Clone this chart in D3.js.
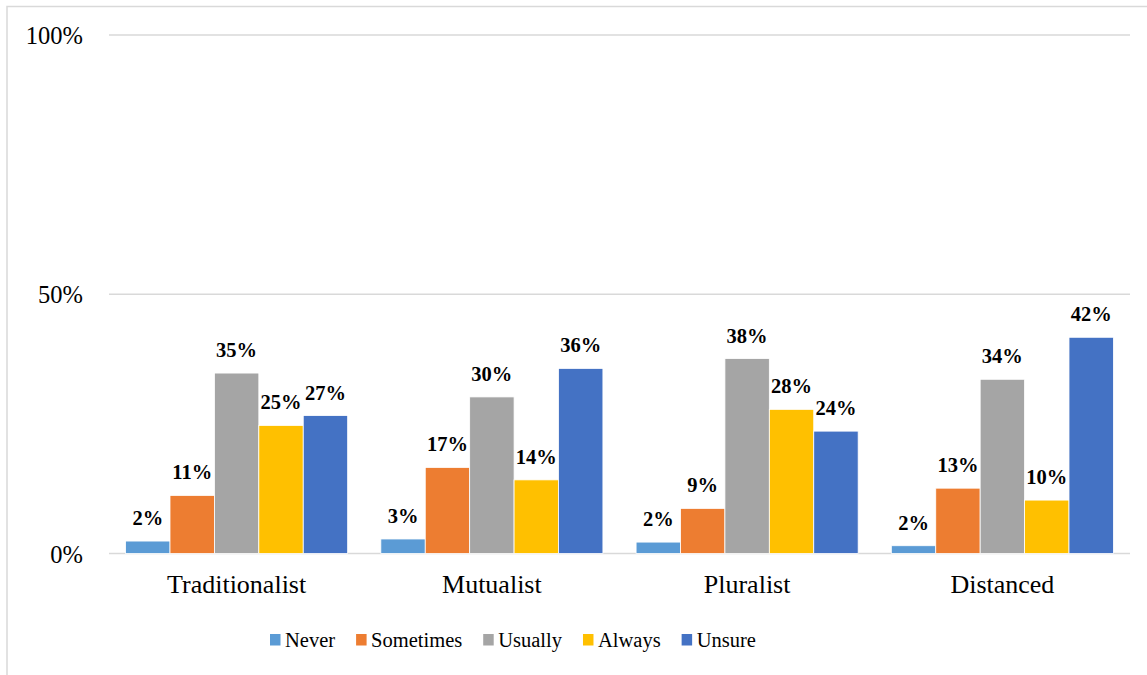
<!DOCTYPE html>
<html>
<head>
<meta charset="utf-8">
<script src="https://cdn.jsdelivr.net/npm/d3@7"></script>
<style>
  html, body { margin: 0; padding: 0; background: #fff; }
  svg { display: block; }
  text { font-family: "Liberation Serif", "Times New Roman", serif; fill: #000; }
</style>
</head>
<body>
<svg id="chart" width="1147" height="675"></svg>
<script>
const categories = ["Traditionalist", "Mutualist", "Pluralist", "Distanced"];
const seriesNames = ["Never", "Sometimes", "Usually", "Always", "Unsure"];
const seriesColors = ["#5B9BD5", "#ED7D31", "#A5A5A5", "#FFC000", "#4472C4"];
const never     = [2.4, 2.8, 2.2, 1.5];
const sometimes = [11.2, 16.6, 8.7, 12.6];
const usually   = [34.8, 30.2, 37.6, 33.6];
const always    = [24.7, 14.2, 27.8, 10.3];
const unsure    = [26.6, 35.7, 23.6, 41.7];
const yTicks = [0, 50, 100];

const seriesValues = [never, sometimes, usually, always, unsure];

const svg = d3.select("#chart");

// outer border (extends past right/bottom edges)
svg.append("rect")
  .attr("x", 7).attr("y", 6.5)
  .attr("width", 1200).attr("height", 700)
  .attr("fill", "none").attr("stroke", "#d9d9d9").attr("stroke-width", 1.5);

const plotLeft = 109, plotRight = 1130, plotTop = 35, plotBottom = 553.5;

const x0 = d3.scaleBand().domain(categories).range([plotLeft, plotRight]).paddingInner(0.13).paddingOuter(0.065);
const x1 = d3.scaleBand().domain(seriesNames).range([0, x0.bandwidth()]).padding(0);
const y = d3.scaleLinear().domain([0, 100]).range([plotBottom, plotTop]);

// gridlines
svg.append("g").selectAll("line").data(yTicks).join("line")
  .attr("x1", plotLeft).attr("x2", plotRight)
  .attr("y1", d => y(d)).attr("y2", d => y(d))
  .attr("stroke", "#d9d9d9").attr("stroke-width", 1.5);

// y tick labels
svg.append("g").selectAll("text").data(yTicks).join("text")
  .attr("x", 83).attr("y", d => y(d) + 9)
  .attr("text-anchor", "end")
  .attr("font-family", "Liberation Serif, Times New Roman, serif")
  .style("font-size", "24.5px")
  .text(d => d + "%");

// bars
const groups = svg.append("g").selectAll("g").data(categories).join("g")
  .attr("transform", d => `translate(${x0(d)},0)`);

groups.each(function(cat, ci) {
  const g = d3.select(this);
  const data = seriesNames.map((s, si) => ({ s, si, v: seriesValues[si][ci] }));
  g.selectAll("rect").data(data).join("rect")
    .attr("x", d => x1(d.s))
    .attr("y", d => y(d.v))
    .attr("width", x1.bandwidth())
    .attr("height", d => y(0) - y(d.v))
    .attr("fill", d => seriesColors[d.si])
    .attr("stroke", "#fff").attr("stroke-width", 0.8);
  g.selectAll("text").data(data).join("text")
    .attr("x", d => x1(d.s) + x1.bandwidth() / 2)
    .attr("y", d => y(d.v) - 16)
    .attr("text-anchor", "middle")
    .attr("font-family", "Liberation Serif, Times New Roman, serif")
    .style("font-size", "20.5px").style("font-weight", "bold")
    .text(d => Math.round(d.v) + "%");
});

// category labels
svg.append("g").selectAll("text").data(categories).join("text")
  .attr("x", d => x0(d) + x0.bandwidth() / 2)
  .attr("y", 593)
  .attr("text-anchor", "middle")
  .style("font-size", "26px")
  .text(d => d);

// legend
const legend = svg.append("g");
let lx = 270;
seriesNames.forEach((name, i) => {
  legend.append("rect")
    .attr("x", lx).attr("y", 634)
    .attr("width", 10.5).attr("height", 11.5)
    .attr("fill", seriesColors[i]);
  const t = legend.append("text")
    .attr("x", lx + 15).attr("y", 646.5)
    .style("font-size", "20.5px")
    .text(name);
  lx += 15 + t.node().getComputedTextLength() + 21;
});
</script>
</body>
</html>
